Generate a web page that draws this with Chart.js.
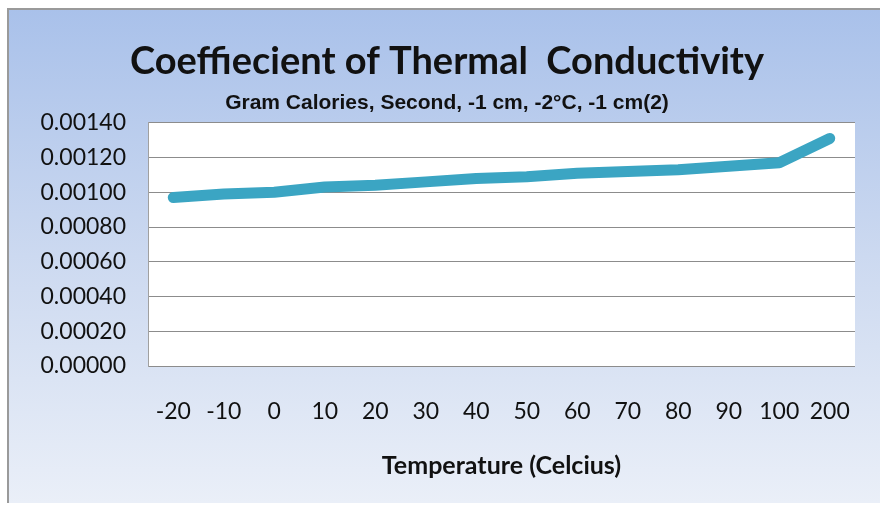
<!DOCTYPE html>
<html>
<head>
<meta charset="utf-8">
<script src="https://cdn.jsdelivr.net/npm/chart.js@4.4.1/dist/chart.umd.min.js"></script>
<style>
  html, body { margin: 0; padding: 0; background: #fff; }
  #wrap { width: 885px; height: 506px; }
</style>
</head>
<body>
<div id="wrap"><canvas id="chart" width="885" height="506"></canvas></div>
<script>
// data
const temperatures = ['-20', '-10', '0', '10', '20', '30', '40', '50', '60', '70', '80', '90', '100', '200'];
const conductivity = [0.00097, 0.00099, 0.00100, 0.00103, 0.00104, 0.00106, 0.00108, 0.00109, 0.00111, 0.00112, 0.00113, 0.00115, 0.00117, 0.00131];

const chartTitle = 'Coeffiecient of Thermal  Conductivity';
const chartSubtitle = 'Gram Calories, Second, -1 cm, -2°C, -1 cm(2)';
const xTitle = 'Temperature (Celcius)';

const padLeft = 39;

// frame + gradient background + white plot area
const backdrop = {
    id: 'backdrop',
    beforeDraw(chart) {
        const ctx = chart.ctx;
        const area = chart.chartArea;
        ctx.save();
        ctx.fillStyle = '#ffffff';
        ctx.fillRect(0, 0, chart.width, chart.height);

        const grad = ctx.createLinearGradient(0, 9, 0, 503);
        grad.addColorStop(0, '#a9c1ea');
        grad.addColorStop(0.5, '#ccd9f0');
        grad.addColorStop(1, '#eaeff8');
        ctx.fillStyle = grad;
        ctx.fillRect(8, 9, 872, 494);

        ctx.strokeStyle = '#9a9a9a';
        ctx.lineWidth = 2;
        ctx.beginPath();
        ctx.moveTo(8, 503);
        ctx.lineTo(8, 9);
        ctx.lineTo(880, 9);
        ctx.stroke();

        ctx.fillStyle = '#ffffff';
        ctx.fillRect(area.left, area.top, area.right - area.left, area.bottom - area.top);
        ctx.restore();
    }
};

new Chart(document.getElementById('chart'), {
    type: 'line',
    data: {
        labels: temperatures,
        datasets: [{
            data: conductivity,
            borderColor: '#3ba5c3',
            borderWidth: 11,
            borderCapStyle: 'round',
            borderJoinStyle: 'round',
            pointRadius: 0,
            tension: 0
        }]
    },
    options: {
        responsive: false,
        animation: false,
        layout: { padding: { left: padLeft, right: 30, top: 0, bottom: 0 } },
        plugins: {
            legend: { display: false },
            tooltip: { enabled: false },
            title: {
                display: true,
                text: chartTitle,
                color: '#111',
                font: { family: 'Lato', size: 38, weight: 'bold' },
                padding: { top: 39, bottom: 6 }
            },
            subtitle: {
                display: true,
                text: chartSubtitle,
                color: '#111',
                font: { family: 'Liberation Sans', size: 21, weight: 'bold' },
                padding: { top: 0, bottom: 7 }
            }
        },
        scales: {
            x: {
                offset: true,
                grid: { display: false, drawTicks: false },
                border: { display: false },
                ticks: {
                    color: '#111',
                    font: { family: 'Lato', size: 23 },
                    padding: 32,
                    maxRotation: 0,
                    autoSkip: false
                },
                title: {
                    display: true,
                    text: xTitle,
                    color: '#111',
                    font: { family: 'Lato', size: 25, weight: 'bold' },
                    padding: { top: 0, bottom: 25 }
                },
                afterFit(scale) { scale.height = 140; }
            },
            y: {
                min: 0,
                max: 0.0014,
                grid: { color: '#8c8c8c', lineWidth: 1, drawTicks: false },
                border: { display: true, color: '#a0a0a0' },
                ticks: {
                    stepSize: 0.0002,
                    color: '#111',
                    font: { family: 'Lato', size: 23 },
                    padding: 22,
                    callback: v => Number(v).toFixed(5)
                },
                afterFit(scale) { scale.width = 148 - padLeft; }
            }
        }
    },
    plugins: [backdrop]
});
</script>
</body>
</html>
